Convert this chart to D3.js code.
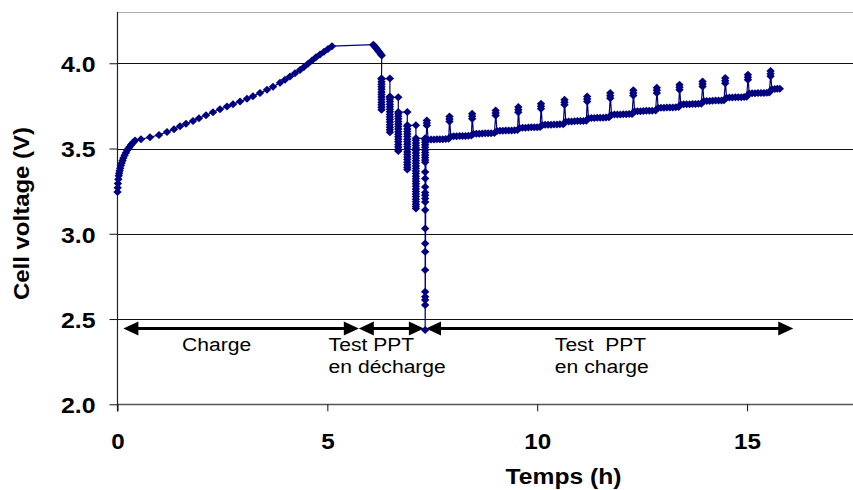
<!DOCTYPE html>
<html><head><meta charset="utf-8">
<script src="https://cdn.jsdelivr.net/npm/d3@7"></script>
<style>body{margin:0;background:#fff}svg{display:block}</style>
</head><body>
<svg id="c" width="853" height="490"></svg>
<script>
// ---------- DATA ----------
// Phase 1: initial charge
const chargeT = [0,0.005,0.01,0.02,0.03,0.04,0.05,0.065,0.08,0.10,0.12,0.14,0.17,0.20,0.23,0.26,0.29,0.32,0.35,0.38,
  0.417,0.56,0.774,0.989,1.179,1.346,1.489,1.632,1.799,1.942,2.109,2.275,2.442,2.609,2.752,2.919,3.085,3.228,3.395,3.562,
  3.705,3.872,3.991,4.11,4.229,4.348,4.443,4.539,4.634,4.729,4.825,4.92,5.015,5.111];
const chargeV = [3.245,3.27,3.295,3.32,3.34,3.355,3.37,3.385,3.40,3.415,3.43,3.445,3.46,3.475,3.49,3.50,3.51,3.52,3.53,3.537,
  3.547,3.555,3.566,3.580,3.597,3.613,3.63,3.645,3.662,3.678,3.695,3.713,3.73,3.746,3.76,3.775,3.792,3.807,3.825,3.845,
  3.862,3.885,3.904,3.922,3.941,3.96,3.978,3.997,4.016,4.035,4.051,4.067,4.083,4.10];

// Phase 2: PPT test in discharge
const dropT = [6.095,6.12,6.15,6.18,6.21,6.24,6.27,6.295];
const dropV = [4.109,4.101,4.092,4.083,4.074,4.065,4.055,4.046];
const pulseT = [6.29,6.49,6.69,6.905,7.11,7.33];
const pulseV = [
  [3.907,3.892,3.877,3.862,3.847,3.832,3.817,3.802,3.787,3.772,3.757,3.742,3.727],
  [3.805,3.79,3.775,3.76,3.745,3.73,3.715,3.70,3.685,3.67,3.655,3.64,3.625,3.61,3.595],
  [3.704,3.689,3.674,3.659,3.644,3.629,3.614,3.599,3.584,3.569,3.554,3.539,3.524,3.509,3.494,3.486],
  [3.63,3.615,3.60,3.585,3.57,3.555,3.54,3.525,3.51,3.495,3.48,3.465,3.45,3.435,3.42,3.405,3.39,3.377],
  [3.548,3.533,3.518,3.503,3.488,3.473,3.458,3.443,3.428,3.413,3.398,3.383,3.368,3.353,3.338,3.323,3.308,3.293,3.278,3.263,3.248,3.233,3.218,3.203,3.188,3.173,3.16,3.148],
  [3.552,3.537,3.522,3.507,3.492,3.477,3.462,3.447,3.432,3.42,3.363,3.324,3.275,3.242,3.226,3.207,3.187,3.139,3.031,2.943,2.894,2.787,2.66,2.63,2.611,2.582,2.436]
];
const restV = [3.91,3.80,3.714,3.636,3.56];

// Phase 3: PPT test in charge
const chargeStartT = 7.35, chargeStartV = 3.548;
const bulbT = [7.37,7.91,8.45,9.01,9.55,10.09,10.65,11.19,11.74,12.29,12.85,13.39,13.94,14.48,15.02,15.56];
const bulbV = [[3.635,3.65,3.665],[3.658,3.673,3.688],[3.674,3.689,3.704],[3.693,3.708,3.723],[3.713,3.728,3.743],
  [3.733,3.748,3.763],[3.756,3.771,3.786],[3.775,3.79,3.805],[3.795,3.81,3.825],[3.811,3.826,3.841],[3.826,3.841,3.856],
  [3.844,3.859,3.874],[3.863,3.878,3.893],[3.883,3.898,3.913],[3.903,3.918,3.933],[3.924,3.939,3.954]];
const bandT = [
  [7.40,7.47,7.54,7.61,7.68,7.75,7.82,7.89],
  [7.94,8.01,8.08,8.15,8.22,8.29,8.36,8.43],
  [8.48,8.55,8.62,8.69,8.76,8.83,8.90,8.98],
  [9.04,9.11,9.18,9.25,9.32,9.39,9.46,9.53],
  [9.58,9.65,9.72,9.79,9.86,9.93,10.00,10.07],
  [10.12,10.19,10.26,10.33,10.40,10.47,10.54,10.62],
  [10.68,10.75,10.82,10.89,10.96,11.03,11.10,11.17],
  [11.22,11.29,11.36,11.43,11.50,11.57,11.64,11.71],
  [11.77,11.84,11.91,11.98,12.05,12.12,12.19,12.26],
  [12.32,12.39,12.46,12.53,12.60,12.67,12.74,12.82],
  [12.88,12.95,13.02,13.09,13.16,13.23,13.30,13.37],
  [13.42,13.49,13.56,13.63,13.70,13.77,13.84,13.91],
  [13.97,14.04,14.11,14.18,14.25,14.32,14.39,14.45],
  [14.51,14.58,14.65,14.72,14.79,14.86,14.93,14.99],
  [15.05,15.12,15.19,15.26,15.33,15.40,15.47,15.53],
  [15.59,15.66,15.72,15.78]];
const bandV = [
  [3.552,3.553,3.553,3.554,3.555,3.555,3.556,3.557],
  [3.571,3.572,3.572,3.573,3.574,3.574,3.575,3.576],
  [3.586,3.587,3.587,3.588,3.589,3.589,3.590,3.591],
  [3.603,3.604,3.604,3.605,3.606,3.606,3.607,3.608],
  [3.621,3.622,3.622,3.623,3.624,3.624,3.625,3.626],
  [3.638,3.639,3.639,3.640,3.641,3.641,3.642,3.643],
  [3.658,3.659,3.659,3.660,3.661,3.661,3.662,3.663],
  [3.678,3.679,3.679,3.680,3.681,3.681,3.682,3.683],
  [3.698,3.699,3.699,3.700,3.701,3.701,3.702,3.703],
  [3.718,3.719,3.719,3.720,3.721,3.721,3.722,3.723],
  [3.738,3.739,3.739,3.740,3.741,3.741,3.742,3.743],
  [3.758,3.759,3.759,3.760,3.761,3.761,3.762,3.763],
  [3.778,3.779,3.779,3.780,3.781,3.781,3.782,3.783],
  [3.798,3.799,3.799,3.800,3.801,3.801,3.802,3.803],
  [3.823,3.824,3.824,3.825,3.826,3.826,3.827,3.828],
  [3.848,3.849,3.850,3.850]];

// Axes / annotations
const yTicks = [2.0,2.5,3.0,3.5,4.0];
const xTicks = [0,5,10,15];
const phaseStart = [0.14,5.75,7.35];
const phaseEnd = [5.75,7.30,16.10];
const phaseLabels = [["Charge"],["Test PPT","en décharge"],["Test\u00A0 PPT","en charge"]];
const phaseLabelT = [2.36,5.03,10.42];
const phaseLabelAnchor = ["middle","start","start"];
const arrowV = 2.445;

// ---------- BUILD POINT SEQUENCE ----------
const pts = [];
chargeT.forEach((t,i)=>pts.push([t,chargeV[i]]));
dropT.forEach((t,i)=>pts.push([t,dropV[i]]));
pulseT.forEach((t,i)=>{
  pulseV[i].forEach(v=>pts.push([t,v]));
  if(i<restV.length){ pts.push([t,restV[i]]); pts.push([pulseT[i+1],restV[i]]); }
});
pts.push([chargeStartT,chargeStartV]);
bulbT.forEach((t,i)=>{
  bulbV[i].forEach(v=>pts.push([t,v]));
  bandT[i].forEach((bt,j)=>pts.push([bt,bandV[i][j]]));
});

// ---------- DRAW ----------
const svg = d3.select("#c");
const W = 853;
const x = d3.scaleLinear().domain([0,17.5]).range([117.5,852]);
const y = d3.scaleLinear().domain([2.0,4.3]).range([404.3,12.1]);
const cy = v => Math.round(y(v))+0.5;

// top border
svg.append("line").attr("x1",x(0)).attr("x2",W).attr("y1",cy(4.3)).attr("y2",cy(4.3))
  .attr("stroke","#b0b0b0").attr("stroke-width",1.2);
// gridlines
svg.append("g").selectAll("line").data(yTicks).join("line")
  .attr("x1",x(0)).attr("x2",W).attr("y1",d=>cy(d)).attr("y2",d=>cy(d))
  .attr("stroke",d=>d===2.0?"#555":"#111").attr("stroke-width",d=>d===2.0?1.6:1);

// y axis
const gy = svg.append("g").attr("transform",`translate(${x(0)},0)`)
  .call(d3.axisLeft(y).tickValues(yTicks).tickFormat(d3.format(".1f")).tickSize(8).tickPadding(14));
gy.select(".domain").remove();
gy.selectAll(".tick line").attr("stroke","#111");
gy.selectAll(".tick text").attr("x",0).attr("dy",0)
  .attr("transform","translate(-22,8.3) scale(1.13,1)")
  .attr("font-family","'Liberation Sans', Arial, sans-serif").attr("font-weight","bold")
  .attr("font-size",22).attr("fill","#000");
svg.append("line").attr("x1",x(0)).attr("x2",x(0)).attr("y1",y(4.3)).attr("y2",411.5)
  .attr("stroke","#222").attr("stroke-width",1.2);

// x axis
const gx = svg.append("g").attr("transform",`translate(0,${y(2.0)})`)
  .call(d3.axisBottom(x).tickValues(xTicks).tickFormat(d3.format("d")).tickSize(7).tickPadding(20));
gx.select(".domain").remove();
gx.selectAll(".tick line").attr("stroke","#111");
gx.selectAll(".tick text").attr("y",0).attr("dy",0)
  .attr("transform","translate(0,45) scale(1.1,1)")
  .attr("font-family","'Liberation Sans', Arial, sans-serif").attr("font-weight","bold")
  .attr("font-size",22).attr("fill","#000");

// axis titles
svg.append("text").text("Cell voltage (V)")
  .attr("transform","translate(28.7,213.5) rotate(-90) scale(1.09,1)")
  .attr("text-anchor","middle")
  .attr("font-family","'Liberation Sans', Arial, sans-serif").attr("font-weight","bold").attr("font-size",22);
svg.append("text").text("Temps (h)")
  .attr("transform","translate(563.5,484) scale(1.12,1)")
  .attr("text-anchor","middle")
  .attr("font-family","'Liberation Sans', Arial, sans-serif").attr("font-weight","bold").attr("font-size",22);

// phase arrows
const ay = y(arrowV);
const arrows = svg.append("g");
phaseStart.forEach((s,i)=>{
  const x1 = x(s), x2 = x(phaseEnd[i]);
  arrows.append("line").attr("x1",x1+8).attr("x2",x2-8).attr("y1",ay).attr("y2",ay)
    .attr("stroke","#000").attr("stroke-width",3);
  arrows.append("path").attr("d",`M${x1},${ay} L${x1+15},${ay-7} L${x1+15},${ay+7} Z`).attr("fill","#000");
  arrows.append("path").attr("d",`M${x2},${ay} L${x2-15},${ay-7} L${x2-15},${ay+7} Z`).attr("fill","#000");
  phaseLabels[i].forEach((lab,j)=>{
    svg.append("text").text(lab)
      .attr("transform",`translate(${x(phaseLabelT[i])},${351+22*j}) scale(1.11,1)`)
      .attr("text-anchor",phaseLabelAnchor[i])
      .attr("font-family","'Liberation Sans', Arial, sans-serif").attr("font-size",19).attr("fill","#000");
  });
});

// series line + markers
svg.append("path").datum(pts)
  .attr("d",d3.line().x(d=>x(d[0])).y(d=>y(d[1])))
  .attr("fill","none").attr("stroke","#000080").attr("stroke-width",1.2);
svg.append("g").selectAll("path").data(pts).join("path")
  .attr("d","M0,-4L4.2,0L0,4L-4.2,0Z")
  .attr("transform",d=>`translate(${x(d[0])},${y(d[1])})`)
  .attr("fill","#000080");
</script>
</body></html>
